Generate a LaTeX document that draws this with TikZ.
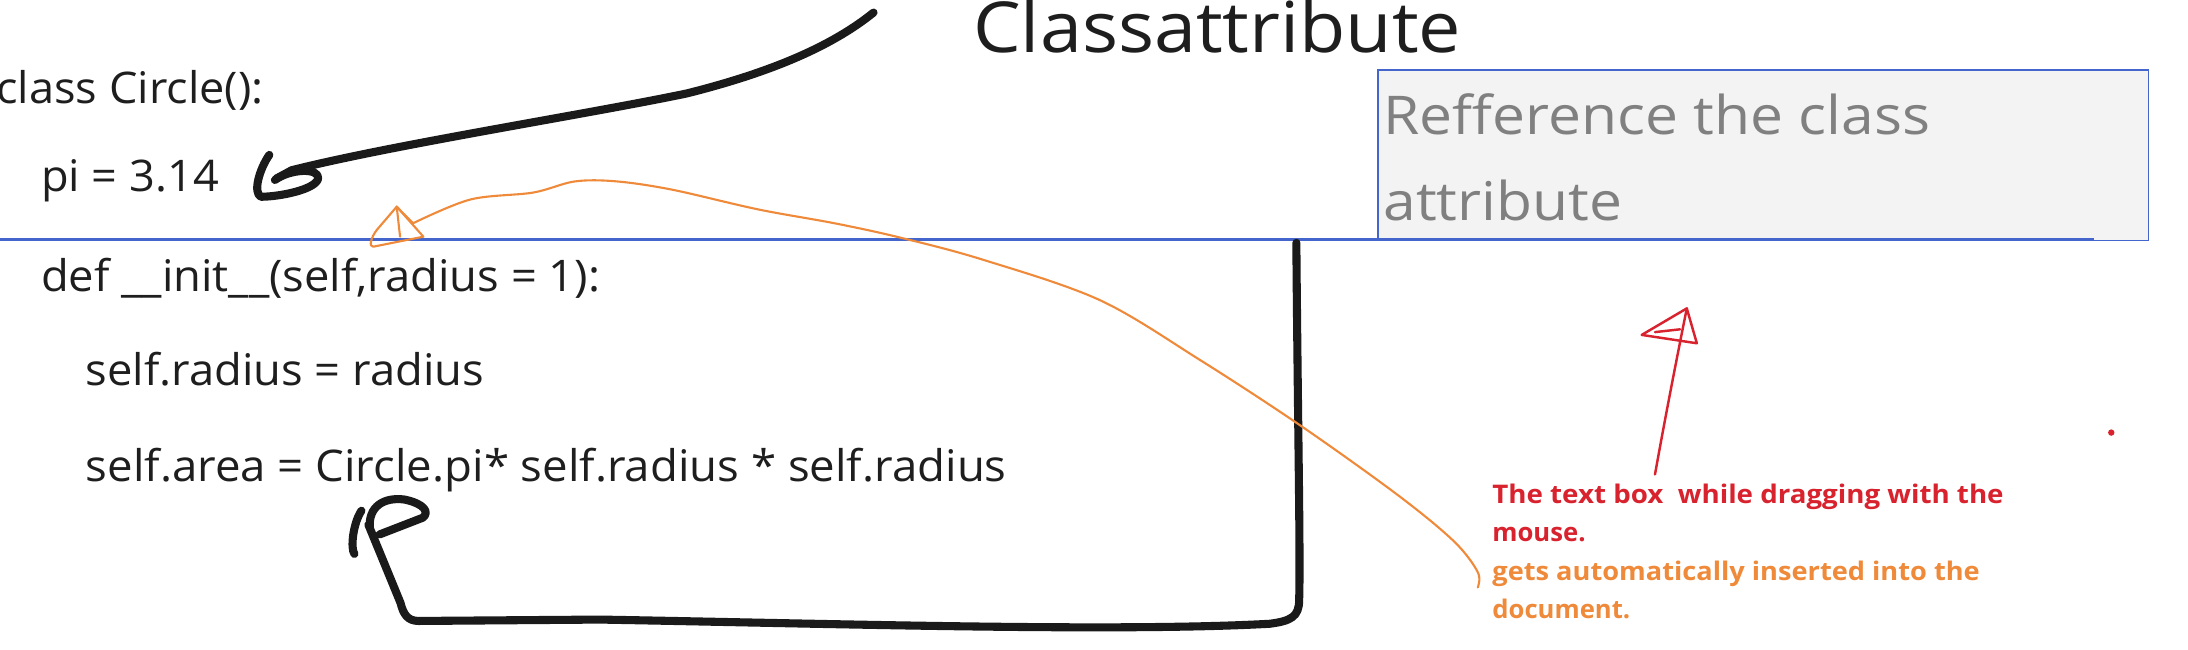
\documentclass[tikz,border=0pt]{standalone}
\usepackage{fontspec}
\usepackage{graphicx}
\setmainfont{Open Sans}
\definecolor{inkblack}{HTML}{1A1A1A}
\definecolor{codetext}{HTML}{1E1E1E}
\definecolor{boxgray}{HTML}{808080}
\definecolor{boxfill}{HTML}{F3F3F3}
\definecolor{lineblue}{HTML}{4466CC}
\definecolor{notered}{HTML}{D8222E}
\definecolor{noteorange}{HTML}{EE8A3A}
\newcommand{\hstretch}[2]{\scalebox{#1}[1]{#2}}
\begin{document}
\begin{tikzpicture}[x=0.13954mm,y=-0.13954mm,
  codestyle/.style={anchor=base west,inner sep=0pt,text=codetext,font=\fontsize{12.4}{14}\selectfont},
  titlestyle/.style={anchor=base west,inner sep=0pt,text=codetext,font=\fontsize{20}{24}\selectfont},
  boxtext/.style={anchor=base west,inner sep=0pt,text=boxgray,font=\fontsize{15.2}{18}\selectfont},
  redtext/.style={anchor=base west,inner sep=0pt,text=notered,font=\bfseries\fontsize{7.3}{9}\selectfont},
  orangetext/.style={anchor=base west,inner sep=0pt,text=noteorange,font=\bfseries\fontsize{7.3}{9}\selectfont},
  thickink/.style={draw=inkblack,line width=2.3pt,line cap=round,line join=round},
  orangeink/.style={draw=noteorange,line width=0.6pt,line cap=round,line join=round},
  redink/.style={draw=notered,line width=0.7pt,line cap=round,line join=round}]
\useasboundingbox (0,0) rectangle (1568,465.1);

% text box with grey fill
\node[draw=lineblue,line width=0.4pt,fill=boxfill,inner sep=0pt,
  minimum width=77.03mm,minimum height=17.07mm,anchor=north west] (box) at (987,49.7) {};
\node[boxtext] (ref1) at (991,96.7) {\hstretch{1.1}{Refference the class}};
\node[boxtext] (ref2) at (991,157.7) {\hstretch{1.1}{attribute}};

% blue line
\coordinate (bl0) at (0,171.4);
\coordinate (bl1) at (1500.7,171.4);
\draw[lineblue,line width=0.85pt] (bl0) -- (bl1);

% title and code
\node[titlestyle] (title) at (697,37.5) {\hstretch{1.075}{Classattribute}};
\node[codestyle] (c1) at (-3,74) {\hstretch{1.035}{class Circle():}};
\node[codestyle] (c2) at (29,137.5) {\hstretch{1.035}{pi = 3.14}};
\node[codestyle] (c3) at (29,209) {\hstretch{1.04}{def \_\_init\_\_(self,radius = 1):}};
\node[codestyle] (c4) at (61,276) {\hstretch{1.04}{self.radius = radius}};
\node[codestyle] (c5) at (61,345) {\hstretch{1.045}{self.area = Circle.pi* self.radius * self.radius}};

% notes
\node[redtext] (n1) at (1069,360.7) {\hstretch{1.08}{The text box\ \ while dragging with the}};
\node[redtext] (n2) at (1069,388) {mouse.};
\node[orangetext] (n3) at (1069,415.7) {\hstretch{1.06}{gets automatically inserted into the}};
\node[orangetext] (n4) at (1069,443) {document.};

% black arrow from title to pi
\coordinate (a0) at (626,9);
\coordinate (a1) at (209,122);
\draw[thickink] (a0) .. controls (600,30) and (560,50) .. (492,67)
  .. controls (420,82) and (280,104) .. (a1) -- (198,128);
\draw[thickink] (193,111) .. controls (186,121) and (181,138) .. (187,141)
  .. controls (200,141) and (226,136) .. (228,128)
  .. controls (229,120) and (208,121) .. (197,129);

% black bracket arrow
\coordinate (b0) at (929,174);
\coordinate (b1) at (264,376);
\draw[thickink] (b0) .. controls (930,300) and (932,400) .. (931,430)
  .. controls (931,442) and (925,445) .. (910,447)
  .. controls (800,453) and (600,447) .. (430,444)
  -- (300,445) .. controls (292,445) and (289,440) .. (287,432) -- (b1);
\draw[thickink] (259,366) .. controls (253,375) and (251,393) .. (254,397);
\draw[thickink] (265,378) .. controls (264,363) and (275,356) .. (290,358)
  .. controls (304,361) and (308,367) .. (303,371) -- (272,383);

% orange connector
\coordinate (o0) at (1059,421);
\coordinate (o1) at (296,160);
\draw[orangeink] plot[smooth,tension=0.55] coordinates {(o0) (1059,410) (1042,388) (1002,355) (932,305) (860,258) (788,215) (704,186) (644,170) (598,160) (543,150) (482,136) (442,130) (412,130) (382,138) (337,143) (o1)};
\draw[orangeink] (o1) -- (284.3,148.1);
\draw[orangeink] (284.3,148.1) -- (270,164.8) .. controls (266,170) and (264,177) .. (267.5,176.8) -- (303.4,169.6) -- cycle;
\draw[orangeink] (284.3,148.1) -- (286.7,169.6);

% red arrow
\coordinate (r0) at (1186,340);
\coordinate (r1) at (1208.8,221);
\draw[redink] (r0) .. controls (1195,290) and (1203,250) .. (r1);
\draw[redink] (r1) -- (1176.5,240) -- (1216,246) -- cycle;
\draw[redink] (1186,238) -- (1204,236);

% red dot
\fill[notered] (1513,310) circle (2.3);
\end{tikzpicture}
\end{document}
